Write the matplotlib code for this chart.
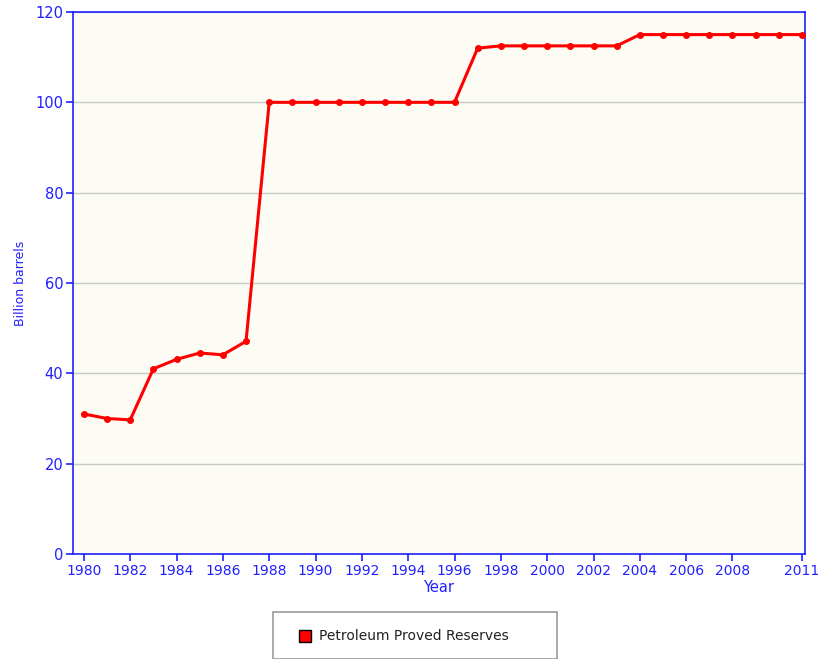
import matplotlib.pyplot as plt
from matplotlib.patches import Rectangle

# ── data ─────────────────────────────────────────────────────────────────────
years = list(range(1980, 2012))
reserves = [31.0, 30.0, 29.7, 41.0, 43.1, 44.5, 44.1, 47.1,
            100.0, 100.0, 100.0, 100.0, 100.0, 100.0, 100.0, 100.0, 100.0,
            112.0, 112.5, 112.5, 112.5, 112.5, 112.5, 112.5,
            115.0, 115.0, 115.0, 115.0, 115.0, 115.0, 115.0, 115.0]
xticks = [1980, 1982, 1984, 1986, 1988, 1990, 1992, 1994, 1996, 1998,
          2000, 2002, 2004, 2006, 2008, 2011]
yticks = [0, 20, 40, 60, 80, 100, 120]

BLUE = "#2020ff"

# ── figure ───────────────────────────────────────────────────────────────────
W, H = 818, 659
fig = plt.figure(figsize=(W / 100, H / 100), dpi=100)
ax = fig.add_axes([73 / W, 1 - 554 / H, (805 - 73) / W, (554 - 12) / H])
ax.set_facecolor("#fcfcf4")

ax.plot(years, reserves, color="#ff0000", lw=2.2, marker="o", ms=4,
        zorder=3)

ax.set_xlim(1979.53, 2011.13)
ax.set_ylim(0, 120)
ax.set_xticks(xticks)
ax.set_yticks(yticks)
ax.yaxis.grid(True, color="#c8c8c8", lw=1)
ax.set_axisbelow(True)

for s in ax.spines.values():
    s.set_color(BLUE)
    s.set_linewidth(1.2)
ax.tick_params(colors=BLUE, labelsize=10, length=5, width=1.2,
               direction="out", pad=2)
ax.tick_params(axis="y", labelsize=10.5)
ax.set_xlabel("Year", color=BLUE, fontsize=10.5, labelpad=2)
ax.set_ylabel("Billion barrels", color=BLUE, fontsize=9)
ax.yaxis.set_label_coords(-(73 - 27) / (805 - 73), 0.5)

# ── legend box ───────────────────────────────────────────────────────────────
fig.patches.append(Rectangle((273 / W, 0), (557 - 273) / W, (H - 612) / H,
                             transform=fig.transFigure, fill=False,
                             edgecolor="#999999", lw=1.2))
fig.patches.append(Rectangle((299 / W, 1 - 642 / H), 12 / W, 12 / H,
                             transform=fig.transFigure, facecolor="#ff0000",
                             edgecolor="black", lw=1))
fig.text(319 / W, 1 - 636 / H, "Petroleum Proved Reserves", fontsize=10,
         color="#222222", va="center", ha="left")

plt.savefig("out.png", dpi=100)
plt.close()
